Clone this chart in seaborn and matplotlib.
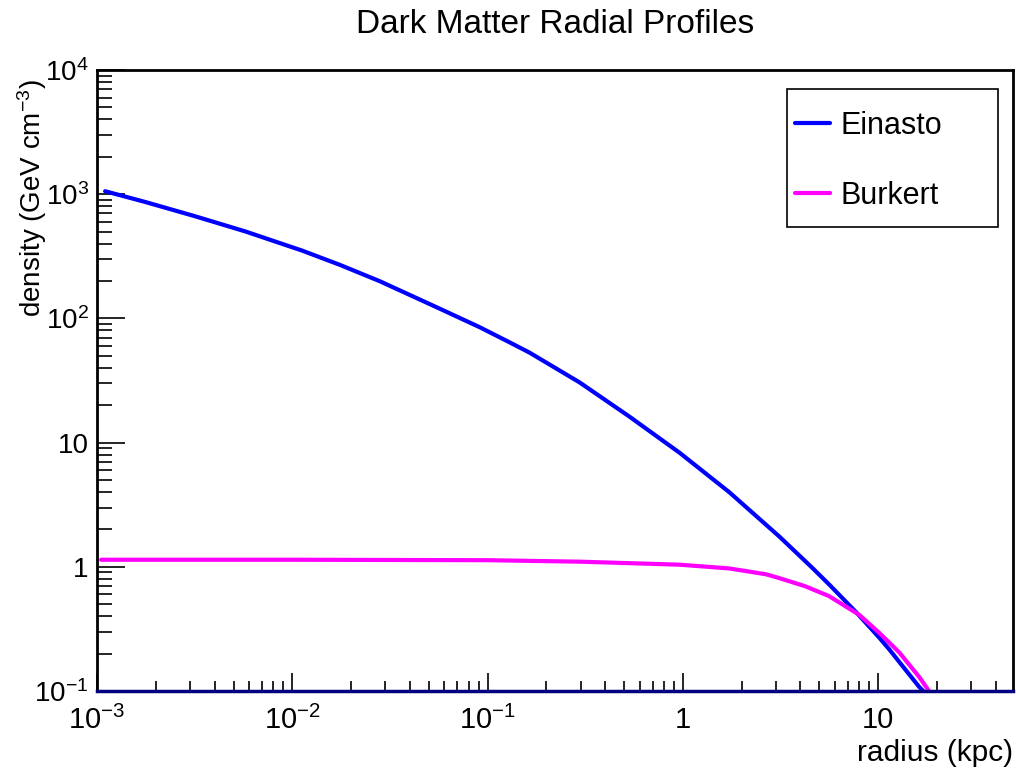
import pandas as pd
import matplotlib
matplotlib.use("Agg")
import matplotlib.pyplot as plt
import matplotlib.ticker as mticker
from matplotlib.patches import Rectangle
import seaborn as sns
import numpy as np

# valeurs
radius_einasto = [0.0011, 0.00176, 0.00317, 0.00571, 0.0112, 0.0175, 0.0281, 0.0567,
                  0.091, 0.130, 0.164, 0.296, 0.532, 0.96, 1.73, 3.12, 4.6, 5.61,
                  7.72, 10.1, 11.4, 16.2, 17.0]
rho_einasto = [1057, 867, 665, 503, 352, 270, 199, 120,
               85, 64, 53, 30.5, 16.2, 8.3, 3.98, 1.75, 0.98, 0.72,
               0.43, 0.27, 0.216, 0.108, 0.1]

radius_burkert = [0.00105, 0.01, 0.1, 0.296, 0.96, 1.73, 2.67, 3.12, 4.2, 5.61,
                  8.0, 10.1, 12.8, 16.2, 18.2]
rho_burkert = [1.14, 1.14, 1.13, 1.10, 1.04, 0.97, 0.87, 0.81, 0.70, 0.58,
               0.41, 0.295, 0.205, 0.13, 0.1]

profils = pd.concat([
    pd.DataFrame({"radius": radius_einasto, "density": rho_einasto, "profile": "Einasto"}),
    pd.DataFrame({"radius": radius_burkert, "density": rho_burkert, "profile": "Burkert"}),
])

sns.set_style("ticks")
plt.rcParams["font.family"] = ["Liberation Sans", "DejaVu Sans"]
plt.rcParams["mathtext.fontset"] = "custom"
plt.rcParams["mathtext.rm"] = "Liberation Sans"
plt.rcParams["mathtext.it"] = "Liberation Sans"
plt.rcParams["mathtext.default"] = "regular"
for cle in ["text.color", "axes.labelcolor", "xtick.color", "ytick.color"]:
    plt.rcParams[cle] = "black"

fig = plt.figure(figsize=(10.16, 7.71), dpi=100)
ax = fig.add_axes([97 / 1016, 80 / 771, 916 / 1016, 621 / 771])

sns.lineplot(data=profils, x="radius", y="density", hue="profile",
             palette={"Einasto": "#0000ff", "Burkert": "#ff00ff"},
             linewidth=3, sort=False, ax=ax, legend=False)

ax.set_xscale("log")
ax.set_yscale("log")
ax.set_xlim(1e-3, 49)
ax.set_ylim(0.1, 1e4)

ax.xaxis.set_major_locator(mticker.FixedLocator([1e-3, 1e-2, 1e-1, 1, 10]))
ax.xaxis.set_major_formatter(mticker.FixedFormatter(["$10^{-3}$", "$10^{-2}$", "$10^{-1}$", "1", "10"]))
ax.xaxis.set_minor_locator(mticker.LogLocator(base=10, subs=np.arange(2, 10), numticks=20))
ax.xaxis.set_minor_formatter(mticker.NullFormatter())
ax.yaxis.set_major_locator(mticker.FixedLocator([0.1, 1, 10, 100, 1000, 10000]))
ax.yaxis.set_major_formatter(mticker.FixedFormatter(["$10^{-1}$", "1", "10", "$10^{2}$", "$10^{3}$", "$10^{4}$"]))
ax.yaxis.set_minor_locator(mticker.LogLocator(base=10, subs=np.arange(2, 10), numticks=20))
ax.yaxis.set_minor_formatter(mticker.NullFormatter())

ax.tick_params(axis="x", which="major", direction="in", length=13, width=1.2, pad=11, labelsize=21)
ax.tick_params(axis="x", which="minor", direction="in", length=7, width=1.2)
ax.tick_params(axis="y", which="major", direction="in", length=20, width=1.2, pad=6, labelsize=20)
ax.tick_params(axis="y", which="minor", direction="in", length=11, width=1.2)

for side in ["top", "right", "left"]:
    ax.spines[side].set_visible(True)
    ax.spines[side].set_color("black")
    ax.spines[side].set_linewidth(2)
ax.spines["bottom"].set_color("#000080")
ax.spines["bottom"].set_linewidth(2.5)

ax.set_xlabel("radius (kpc)", fontsize=21.5, loc="right")
ax.xaxis.set_label_coords(1.0, -0.078)
ax.set_ylabel("density (GeV cm$^{-3}$)", fontsize=20, loc="top")
ax.yaxis.set_label_coords(-0.052, 0.985)
fig.text((97 + 1013) / 2 / 1016, 1 - 33 / 771, "Dark Matter Radial Profiles",
         ha="center", va="baseline", fontsize=24)

# cadre de la légende
ax.add_patch(Rectangle((0.7533, 0.7472), 0.2303, 0.2222, transform=ax.transAxes,
                       facecolor="white", edgecolor="black", linewidth=1.2, zorder=4))
handles = [plt.Line2D([], [], color="#0000ff", lw=3), plt.Line2D([], [], color="#ff00ff", lw=3)]
leg = ax.legend(handles, ["Einasto", "Burkert"], loc="upper left",
                bbox_to_anchor=(0.762, 0.934), fontsize=22, frameon=False,
                labelspacing=1.3, handlelength=1.15, handletextpad=0.33,
                borderpad=0, borderaxespad=0)
leg.set_zorder(5)

fig.savefig("out.png", dpi=100)
